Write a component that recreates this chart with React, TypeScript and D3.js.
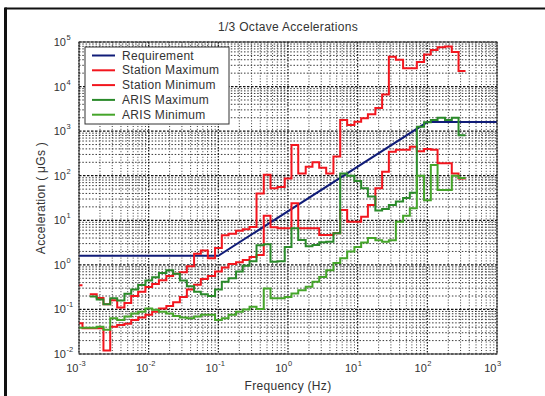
import React from 'react';
import * as d3 from 'd3';

// 1/3-octave band centre frequencies (Hz)
const bandCenters = [
  0.001, 0.00125, 0.0016, 0.002, 0.0025, 0.00315, 0.004, 0.005, 0.0063, 0.008,
  0.01, 0.0125, 0.016, 0.02, 0.025, 0.0315, 0.04, 0.05, 0.063, 0.08,
  0.1, 0.125, 0.16, 0.2, 0.25, 0.315, 0.4, 0.5, 0.63, 0.8,
  1, 1.25, 1.6, 2, 2.5, 3.15, 4, 5, 6.3, 8,
  10, 12.5, 16, 20, 25, 31.5, 40, 50, 63, 80,
  100, 125, 160, 200, 250, 315,
];

// Requirement curve (µg)
const reqFreq = [0.001, 0.1, 100, 1000];
const reqLevel = [1.6, 1.6, 1600, 1600];

// Station Maximum (µg) per band
const stationMax: (number | null)[] = [
  0.35, null, 0.22, 0.18, 0.13, 0.16, 0.11, 0.14, 0.2, 0.25,
  0.32, 0.37, 0.45, 0.56, 0.63, 0.68, 0.93, 1.78, 2.1, 1.41,
  2.4, 4.6, 5.0, 5.8, 6.3, 7.1, 40, 105, 52, 56,
  87, 490, 112, 158, 200, 150, 112, 270, 1780, 1380,
  1620, 1950, 2400, 3300, 6600, 46800, 39800, 25700, 25700, 35500,
  52500, 66000, 75900, 79400, 60000, 22400,
];

// Station Minimum (µg) per band
const stationMin: (number | null)[] = [
  0.049, 0.038, 0.038, 0.038, 0.012, 0.041, 0.045, 0.048, 0.058, 0.066,
  0.076, 0.089, 0.105, 0.12, 0.145, 0.19, 0.28, 0.36, 0.48, 0.56,
  0.71, 0.87, 1.05, 1.15, 1.29, 1.5, 1.66, 12.6, 7.0, 6.6,
  6.6, 24, 6.6, 6.6, 6.6, 4.7, 4.7, 5.1, 17, 9.3,
  9.3, 12, 22, 52, 123, 347, 380, 380, 447, 355,
  398, 380, 191, 191, 112, 87,
];

// ARIS Maximum (µg) per band
const arisMax: (number | null)[] = [
  null, null, 0.195, 0.166, 0.13, 0.178, 0.158, 0.224, 0.28, 0.355,
  0.447, 0.525, 0.66, 0.76, 0.63, 0.447, 0.33, 0.25, 0.22, 0.2,
  0.28, 0.42, 0.5, 0.71, 0.95, 1.2, 2.75, 2.9, 1.17, 1.2,
  2.5, 6.6, 3.6, 2.6, 2.8, 3.2, 3.3, 5.1, 112, 100,
  76, 52, 34, 16.6, 17.8, 21.9, 26.3, 31.6, 41.7, 1260,
  1585, 1780, 2000, 1780, 2000, 813,
];

// ARIS Minimum (µg) per band
const arisMin: (number | null)[] = [
  0.039, 0.039, 0.039, 0.041, 0.035, 0.063, 0.058, 0.069, 0.081, 0.089,
  0.105, 0.098, 0.089, 0.081, 0.071, 0.066, 0.063, 0.069, 0.076, 0.076,
  0.058, 0.063, 0.076, 0.089, 0.1, 0.115, 0.102, 0.295, 0.178, 0.178,
  0.19, 0.229, 0.269, 0.324, 0.417, 0.537, 0.759, 1.1, 1.41, 2.0,
  2.51, 3.16, 3.98, 3.55, 3.31, 3.55, 9.33, 12.6, 18.6, 100,
  28.2, 174, 47.9, 47.9, 100, 89,
];

const xDecades = [-3, -2, -1, 0, 1, 2, 3];
const yDecades = [-2, -1, 0, 1, 2, 3, 4, 5];

const seriesNames = ['Requirement', 'Station Maximum', 'Station Minimum', 'ARIS Maximum', 'ARIS Minimum'];
const seriesColors = ['#101c78', '#f2161e', '#f2161e', '#2a8a2a', '#45a52a'];

const W = 545;
const H = 396;
const L = 79, R = 497, T = 42, B = 354;

export default function App() {
  const x = d3.scaleLog().domain([1e-3, 1e3]).range([L, R]);
  const y = d3.scaleLog().domain([1e-2, 1e5]).range([B, T]);
  const half = Math.pow(10, 0.05);
  const lo = bandCenters.map((c) => c / half);
  const hi = bandCenters.map((c) => c * half);

  const stepPath = (vals: (number | null)[]) => {
    let d = '';
    let prev = false;
    vals.forEach((v, k) => {
      if (v == null) {
        prev = false;
        return;
      }
      const yy = y(v).toFixed(2);
      if (!prev) d += `M${x(lo[k]).toFixed(2)},${yy}`;
      else d += `V${yy}`;
      d += `H${x(hi[k]).toFixed(2)}`;
      prev = true;
    });
    return d;
  };

  const reqLine = d3
    .line<number>()
    .x((_, i) => x(reqFreq[i]))
    .y((_, i) => y(reqLevel[i]))(reqFreq) as string;

  const minorX: number[] = [];
  for (let e = -3; e < 3; e++) for (let m = 2; m <= 9; m++) minorX.push(m * Math.pow(10, e));
  const minorY: number[] = [];
  for (let e = -2; e < 5; e++) for (let m = 2; m <= 9; m++) minorY.push(m * Math.pow(10, e));

  const font = "'Liberation Sans', Arial, Helvetica, sans-serif";
  const series = [stationMax, stationMin, arisMax, arisMin];

  return (
    <svg width={W} height={H} style={{ position: 'absolute', left: 0, top: 0, background: '#fff' }} fontFamily={font}>
      <defs>
        <clipPath id="plotClip">
          <rect x={L} y={T} width={R - L} height={B - T} />
        </clipPath>
      </defs>
      <rect x={0} y={0} width={W} height={H} fill="#fff" />
      {/* frame of the scanned figure */}
      <line x1={5} y1={8.5} x2={W} y2={8.5} stroke="#111" strokeWidth={2.2} />
      <line x1={5.5} y1={7.5} x2={5.5} y2={H} stroke="#111" strokeWidth={3} />

      {/* grid */}
      <g>
        {minorX.map((f, i) => (
          <line key={'mx' + i} x1={x(f)} x2={x(f)} y1={T} y2={B} stroke="#222" strokeWidth={0.9} strokeDasharray="1,1.8" />
        ))}
        {minorY.map((v, i) => (
          <line key={'my' + i} x1={L} x2={R} y1={y(v)} y2={y(v)} stroke="#222" strokeWidth={0.9} strokeDasharray="1.5,1.8" />
        ))}
        {xDecades.map((e) => (
          <line key={'Mx' + e} x1={x(Math.pow(10, e))} x2={x(Math.pow(10, e))} y1={T} y2={B} stroke="#111" strokeWidth={1.2} strokeDasharray="1.5,1.5" />
        ))}
        {yDecades.map((e) => (
          <line key={'My' + e} x1={L} x2={R} y1={y(Math.pow(10, e))} y2={y(Math.pow(10, e))} stroke="#111" strokeWidth={1.2} strokeDasharray="2.5,1.5" />
        ))}
      </g>

      {/* data */}
      <g clipPath="url(#plotClip)" fill="none" strokeLinejoin="miter">
        <path d={reqLine} stroke={seriesColors[0]} strokeWidth={2} />
        {series.map((s, i) => (
          <path key={i} d={stepPath(s)} stroke={seriesColors[i + 1]} strokeWidth={2} />
        ))}
      </g>

      {/* axes box */}
      <rect x={L} y={T} width={R - L} height={B - T} fill="none" stroke="#333" strokeWidth={1} />

      {/* y tick labels */}
      {yDecades.map((e) => (
        <g key={'yl' + e} fill="#333">
          <text x={66} y={y(Math.pow(10, e)) + 4} fontSize={11} textAnchor="end">10</text>
          <text x={66.5} y={y(Math.pow(10, e)) - 2} fontSize={7.5} textAnchor="start">{String(e)}</text>
        </g>
      ))}
      {/* x tick labels */}
      {xDecades.map((e) => (
        <g key={'xl' + e} fill="#333">
          <text x={x(Math.pow(10, e)) - 0.5} y={372} fontSize={11} textAnchor="end">10</text>
          <text x={x(Math.pow(10, e))} y={366} fontSize={7.5} textAnchor="start">{String(e)}</text>
        </g>
      ))}

      {/* title & axis labels */}
      <text x={(L + R) / 2} y={31} fontSize={12} textAnchor="middle" fill="#333" letterSpacing={0.3}>1/3 Octave Accelerations</text>
      <text x={(L + R) / 2} y={390} fontSize={12} textAnchor="middle" fill="#333" letterSpacing={0.3}>Frequency (Hz)</text>
      <text transform={`translate(45,${(T + B) / 2}) rotate(-90)`} fontSize={12} textAnchor="middle" fill="#333" letterSpacing={0.3}>Acceleration ( μGs )</text>

      {/* legend */}
      <g>
        <rect x={85} y={47} width={144} height={77} fill="#fff" stroke="#333" strokeWidth={1} />
        {seriesNames.map((n, i) => (
          <g key={n}>
            <line x1={92} x2={115} y1={55.5 + i * 14.8} y2={55.5 + i * 14.8} stroke={seriesColors[i]} strokeWidth={2} />
            <text x={122} y={59.5 + i * 14.8} fontSize={12} fill="#333" letterSpacing={0.3}>{n}</text>
          </g>
        ))}
      </g>
    </svg>
  );
}
